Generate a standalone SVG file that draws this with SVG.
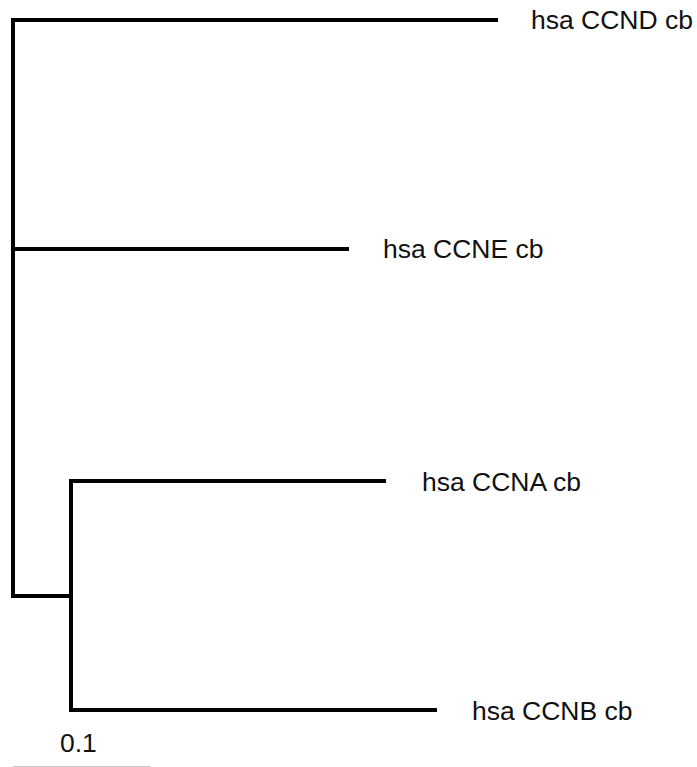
<svg xmlns="http://www.w3.org/2000/svg" width="697" height="767" viewBox="0 0 697 767">
<style>
.br{fill:none;stroke:#000;stroke-width:4;stroke-linecap:square}
.lbl{font-family:"Liberation Sans",Arial,sans-serif;font-size:26.5px;fill:#111}
</style>
<rect width="697" height="767" fill="#fff"/>
<g id="connectors">
<path class="br" d="M13,20 V596 H71"/>
<path class="br" d="M13,20 H496"/>
<path class="br" d="M13,249 H347"/>
<path class="br" d="M71,481 V710"/>
<path class="br" d="M71,481 H384"/>
<path class="br" d="M71,710 H435"/>
</g>
<g id="leaf-ccnd"><text class="lbl" x="531" y="29">hsa CCND cb</text></g>
<g id="leaf-ccne"><text class="lbl" x="383" y="258">hsa CCNE cb</text></g>
<g id="leaf-ccna"><text class="lbl" x="422" y="491">hsa CCNA cb</text></g>
<g id="leaf-ccnb"><text class="lbl" x="472" y="720">hsa CCNB cb</text></g>
<g id="scale">
<text class="lbl" x="60" y="752">0.1</text>
<line x1="13" y1="766.5" x2="150" y2="766.5" stroke="#c8c8c8" stroke-width="1"/>
</g>
</svg>
